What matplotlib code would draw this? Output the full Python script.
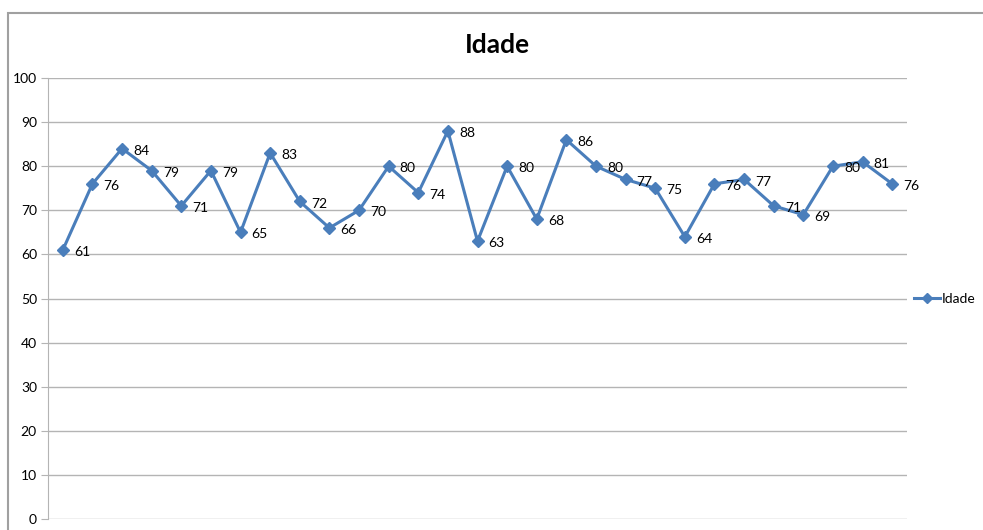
import numpy as np
import matplotlib.pyplot as plt
from matplotlib.patches import Rectangle
from matplotlib.lines import Line2D

# valores
idade = [61, 76, 84, 79, 71, 79, 65, 83, 72, 66, 70, 80, 74, 88, 63,
         80, 68, 86, 80, 77, 75, 64, 76, 77, 71, 69, 80, 81, 76]
yticks = list(range(0, 101, 10))
titulo = "Idade"
serie = "Idade"

cor = "#4a7ebb"
cinza = "#b4b4b4"

plt.rcParams['font.family'] = ['Lato', 'DejaVu Sans']

fig = plt.figure(figsize=(9.83, 5.30), dpi=100)
fig.patch.set_facecolor("white")

# borda externa do grafico (cortada na direita/baixo)
fig.patches.append(Rectangle((8 / 983, -0.1), 1.2, 1 - 13 / 530 + 0.1,
                             transform=fig.transFigure, fill=False,
                             edgecolor="#a0a0a0", linewidth=1.5))

ax = fig.add_axes([48 / 983, 1 - 519 / 530, 859 / 983, (519 - 78) / 530])
x = np.arange(len(idade))
ax.plot(x, idade, color=cor, linewidth=2.2, marker="D", markersize=6.5,
        markerfacecolor=cor, markeredgecolor=cor, zorder=3)

for xi, yi in zip(x, idade):
    ax.annotate(str(yi), (xi, yi), xytext=(8, -1.5), textcoords="offset points",
                fontsize=10, color="black", va="center", ha="left", zorder=4)

ax.set_xlim(-0.5, len(idade) - 0.5)
ax.set_ylim(0, 100)
ax.set_yticks(yticks)
ax.set_xticks([])
ax.grid(axis="y", color=cinza, linewidth=1.0)
ax.set_axisbelow(True)
for s in ["top", "right", "bottom"]:
    ax.spines[s].set_visible(False)
ax.spines["left"].set_color(cinza)
ax.tick_params(axis="y", length=5, color=cinza, labelsize=10, pad=3)

fig.text(0.506, 1 - 45 / 530, titulo, ha="center", va="center",
         fontsize=19, fontweight="bold")

handle = Line2D([], [], color=cor, linewidth=2.2, marker="D", markersize=5)
fig.legend([handle], [serie], loc="center left",
           bbox_to_anchor=(914 / 983, 1 - 299 / 530), frameon=False,
           fontsize=10, handlelength=1.9, handletextpad=0.1, borderaxespad=0,
           borderpad=0)

fig.savefig("out.png", dpi=100)
